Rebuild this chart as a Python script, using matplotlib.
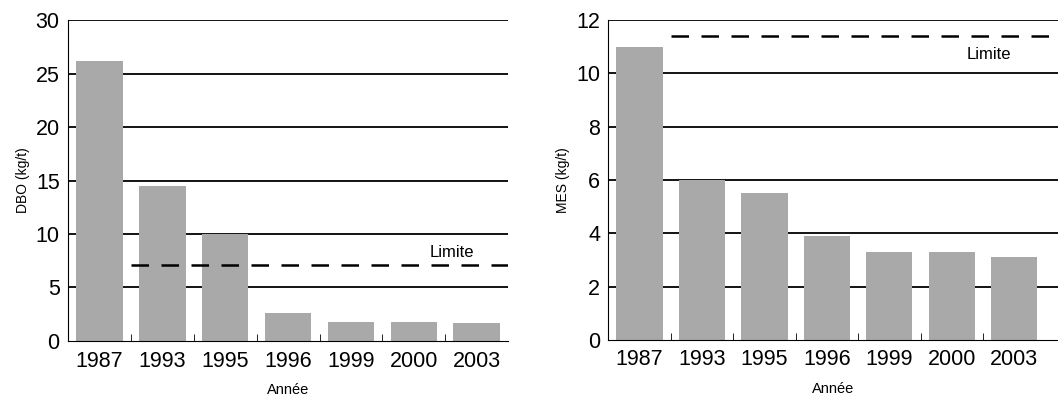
import matplotlib as mpl
import matplotlib.pyplot as plt
import numpy as np

mpl.rcParams['font.family'] = ['Liberation Sans', 'DejaVu Sans']

annees = ['1987', '1993', '1995', '1996', '1999', '2000', '2003']
dbo = [26.2, 14.5, 10.0, 2.6, 1.8, 1.8, 1.7]
mes = [11.0, 6.0, 5.5, 3.9, 3.3, 3.3, 3.1]
limite_dbo = 7.1
limite_mes = 11.4

fig = plt.figure(figsize=(10.58, 3.96), dpi=100)
ax1 = fig.add_axes([0.0643, 0.139, 0.416, 0.810])
ax2 = fig.add_axes([0.575, 0.142, 0.425, 0.807])

x = np.arange(len(annees))
gris = '#a9a9a9'


def panneau(ax, vals, lim, ymax, pas, ylabel, xmax, txt_y):
    for v in np.arange(pas, ymax + pas / 2, pas):
        ax.axhline(v, color='black', lw=1.3, zorder=1)
    ax.bar(x, vals, width=0.74, color=gris, zorder=2)
    ax.plot([0.5, xmax], [lim, lim], color='black', lw=1.8,
            dashes=(7, 5), zorder=3)
    ax.text(5.6, txt_y, 'Limite', fontsize=12, ha='center', va='center')
    ax.set_xlim(-0.5, xmax)
    ax.set_ylim(0, ymax)
    ax.set_yticks(np.arange(0, ymax + pas / 2, pas))
    ax.set_xticks(x)
    ax.set_xticklabels(annees, fontsize=15.5)
    ax.set_xticks(np.arange(0.5, len(annees) - 0.5, 1), minor=True)
    ax.tick_params(axis='x', which='major', length=0, pad=7)
    ax.tick_params(axis='x', which='minor', direction='in', length=5)
    ax.tick_params(axis='y', labelsize=15.5, length=0, pad=6)
    for s in ['top', 'right']:
        ax.spines[s].set_visible(False)
    ax.set_ylabel(ylabel, fontsize=10)
    ax.set_xlabel('Année', fontsize=10.5, labelpad=8)


panneau(ax1, dbo, limite_dbo, 30, 5, 'DBO (kg/t)', 6.5, 8.3)
panneau(ax2, mes, limite_mes, 12, 2, 'MES (kg/t)', 6.7, 10.7)

fig.savefig('out.png', dpi=100)
